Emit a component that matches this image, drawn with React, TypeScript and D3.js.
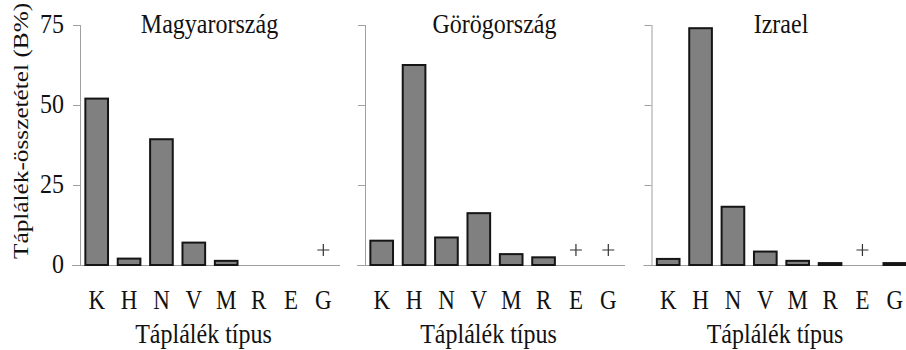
import React, { useEffect, useRef } from "react";
import * as d3 from "d3";

// food type categories (x axis)
const categories = ["K", "H", "N", "V", "M", "R", "E", "G"];
const countries = ["Magyarország", "Görögország", "Izrael"];

// percentage by mass
const hungary = [52, 2, 39.3, 7, 1.3, 0, 0, 0];
const greece = [7.6, 62.5, 8.6, 16.2, 3.4, 2.4, 0, 0];
const israel = [1.9, 74, 18.2, 4.2, 1.3, 0.6, 0, 0.6];

// categories marked only with "+" (trace)
const hungaryTrace = ["G"];
const greeceTrace = ["E", "G"];
const israelTrace = ["E"];

const yTicks = [0, 25, 50, 75];

const width = 906,
  height = 350;
const panelLeft = [80, 365, 651.5];
const panelWidth = 259;
const top = 25,
  bottom = 265;
const stretch = 1.15;
const font = "'Liberation Serif', 'Times New Roman', serif";

const y = d3.scaleLinear().domain([0, 75]).range([bottom, top]);

export default function App(): JSX.Element {
  const ref = useRef<SVGSVGElement>(null);

  useEffect(() => {
    if (!ref.current) return;
    const svg = d3.select(ref.current);
    svg.selectAll("*").remove();

    const series = [hungary, greece, israel];
    const traces = [hungaryTrace, greeceTrace, israelTrace];

    const label = (
      g: any,
      x: number,
      yy: number,
      text: string,
      size: number,
      anchor = "middle"
    ) =>
      g
        .append("text")
        .attr("transform", `translate(${x},${yy}) scale(1,${stretch})`)
        .attr("text-anchor", anchor)
        .attr("font-family", font)
        .attr("font-size", size)
        .attr("fill", "#111")
        .text(text);

    countries.forEach((name, i) => {
      const x0 = panelLeft[i];
      const x = d3
        .scaleBand()
        .domain(categories)
        .range([x0 + 0.5, x0 + 0.5 + panelWidth])
        .paddingInner(0.3)
        .paddingOuter(0.15);

      const g = svg.append("g");

      // y axis
      const yAxis = d3
        .axisLeft(y)
        .tickValues(yTicks)
        .tickSize(7)
        .tickFormat(() => "");
      const ax = g
        .append("g")
        .attr("transform", `translate(${x0},0)`)
        .call(yAxis);
      ax.selectAll("line").attr("stroke", "#a0a0a0");
      ax.select(".domain").attr("stroke", "#a0a0a0").attr("d", `M0.5,${top}V${bottom}`);

      // baseline
      g.append("line")
        .attr("x1", x0 - 8)
        .attr("x2", x0 + panelWidth + 1)
        .attr("y1", y(0) + 0.5)
        .attr("y2", y(0) + 0.5)
        .attr("stroke", "#a0a0a0");

      if (i === 0) {
        yTicks.forEach((t) => label(g, x0 - 16, y(t) + 8, String(t), 24, "end"));
        g.append("text")
          .attr("transform", `translate(28,259) scale(1,${stretch}) rotate(-90)`)
          .attr("font-family", font)
          .attr("font-size", 22)
          .attr("fill", "#111")
          .text("Táplálék-összetétel (B%)");
      }

      // bars
      g.selectAll("rect")
        .data(series[i].map((v, j) => ({ key: categories[j], value: v })).filter((d) => d.value > 0))
        .join("rect")
        .attr("x", (d) => x(d.key) as number)
        .attr("y", (d) => y(d.value))
        .attr("width", x.bandwidth())
        .attr("height", (d) => y(0) - y(d.value))
        .attr("fill", "#808080")
        .attr("stroke", "#151515")
        .attr("stroke-width", 2);

      // trace markers
      traces[i].forEach((k) => {
        const cx = (x(k) as number) + x.bandwidth() / 2;
        const cy = y(0) - 15;
        g.append("path")
          .attr("d", `M${cx - 6},${cy}H${cx + 6}M${cx},${cy - 6}V${cy + 6}`)
          .attr("stroke", "#333")
          .attr("stroke-width", 1.2);
      });

      // category labels
      categories.forEach((c) =>
        label(g, (x(c) as number) + x.bandwidth() / 2, 309, c, 23)
      );

      // titles
      label(g, x0 + panelWidth / 2, 33, name, 24);
      label(g, x0 + panelWidth / 2 - 6, 343, "Táplálék típus", 24);
    });
  }, []);

  return (
    <svg
      ref={ref}
      width={width}
      height={height}
      style={{ position: "absolute", left: 0, top: 0, background: "#fff" }}
    />
  );
}
